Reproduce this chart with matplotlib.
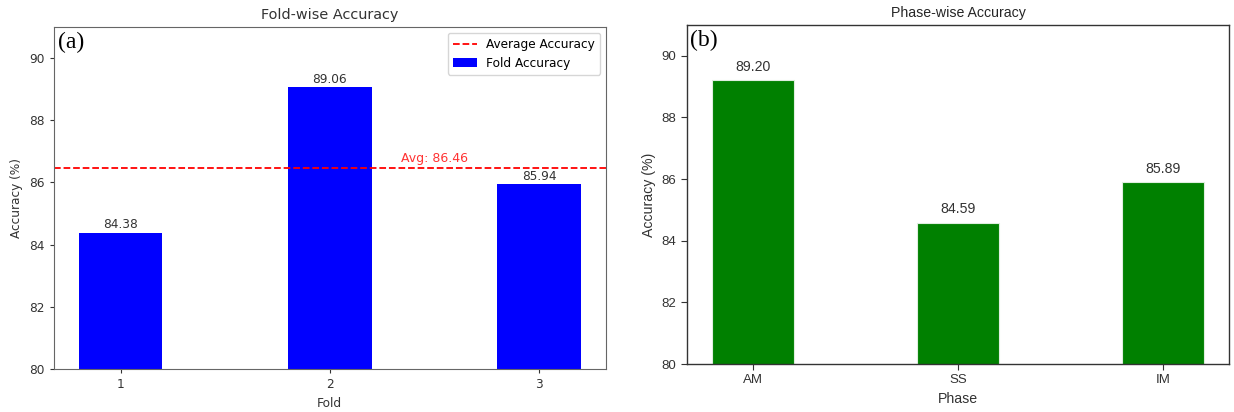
import matplotlib
matplotlib.use("Agg")
import matplotlib.pyplot as plt

# data
folds = ["1", "2", "3"]
fold_acc = [84.38, 89.06, 85.94]
avg_acc = 86.46

phases = ["AM", "SS", "IM"]
phase_acc = [89.20, 84.59, 85.89]

fig = plt.figure(figsize=(12.34, 4.12), dpi=100)

# (a) fold-wise, plain matplotlib look
ax1 = fig.add_axes([0.0434, 0.1044, 0.4477, 0.830])
ax1.axhline(avg_acc, color="red", linestyle="--", linewidth=1.3, label="Average Accuracy")
ax1.bar(folds, fold_acc, width=0.4, color="blue", label="Fold Accuracy")
for i, v in enumerate(fold_acc):
    ax1.text(i, v + 0.05, f"{v:.2f}", ha="center", va="bottom", fontsize=8.7, color="#333333")
ax1.text(1.5, avg_acc + 0.1, f"Avg: {avg_acc:.2f}", ha="center", va="bottom",
         fontsize=9, color="red", alpha=0.8)
ax1.set_ylim(80, 91)
ax1.set_title("Fold-wise Accuracy", fontsize=10.4, color="#333333")
ax1.set_xlabel("Fold", fontsize=8.7, color="#333333")
ax1.set_ylabel("Accuracy (%)", fontsize=8.7, color="#333333")
ax1.tick_params(labelsize=8.7, colors="#333333", length=3)
for s in ax1.spines.values():
    s.set_color("#666666")
ax1.legend(loc="upper right", fontsize=8.7)
ax1.text(0.008, 0.985, "(a)", transform=ax1.transAxes, ha="left", va="top",
         fontsize=17, family="Liberation Serif")

# (b) phase-wise, seaborn ticks-ish look
ax2 = fig.add_axes([0.5567, 0.1165, 0.4392, 0.8228])
ax2.bar(phases, phase_acc, width=0.4, color="green", edgecolor="#dfeedf", linewidth=0.8)
for i, v in enumerate(phase_acc):
    ax2.text(i, v + 0.2, f"{v:.2f}", ha="center", va="bottom", fontsize=10.2,
             color="#333333", family="Liberation Sans")
ax2.set_ylim(80, 91)
ax2.set_title("Phase-wise Accuracy", fontsize=10.2, color="#262626", family="Liberation Sans")
ax2.set_xlabel("Phase", fontsize=10.2, color="#333333", family="Liberation Sans")
ax2.set_ylabel("Accuracy (%)", fontsize=10.2, color="#333333", family="Liberation Sans")
ax2.tick_params(labelsize=9.5, colors="#333333", length=4, direction="out")
for lab in ax2.get_xticklabels() + ax2.get_yticklabels():
    lab.set_family("Liberation Sans")
for s in ax2.spines.values():
    s.set_color("#333333")
    s.set_linewidth(1.0)
ax2.text(0.006, 0.985, "(b)", transform=ax2.transAxes, ha="left", va="top",
         fontsize=17, family="Liberation Serif")

fig.savefig("out.png", dpi=100)
